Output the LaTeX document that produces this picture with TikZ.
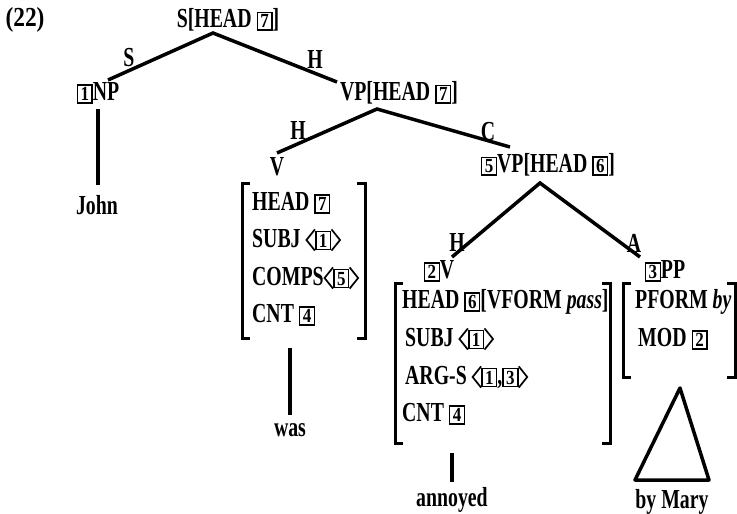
\documentclass[tikz,border=0pt]{standalone}
\usepackage{fontspec}
\setmainfont[FakeStretch=0.72]{Liberation Serif}
\newfontfamily\bxfont[FakeStretch=0.85]{Liberation Serif}
\newcommand\tf{\fontsize{27.5}{30}\selectfont\bfseries}
\newcommand\bx[1]{{\bxfont\bfseries\fontsize{20}{20}\selectfont\setlength\fboxsep{1.6pt}\setlength\fboxrule{1.4pt}\fbox{\kern0.8pt#1\kern0.8pt}}}
\newcommand\lan{\tikz[x=1pt,y=1pt,baseline=0pt]\draw[line width=1.7pt,line join=miter] (9,17.6) -- (0.5,7) -- (9,-3.6);\kern-0.6pt}
\newcommand\ran{\kern-0.6pt\tikz[x=1pt,y=1pt,baseline=0pt]\draw[line width=1.7pt,line join=miter] (0,17.6) -- (8.5,7) -- (0,-3.6);}
\tikzset{
  every node/.style={inner sep=0pt, font=\tf},
  edge/.style={line width=3.5pt},
  brk/.style={line width=3pt},
  row/.style={anchor=west},
}
\begin{document}
\begin{tikzpicture}[x=1pt,y=-1pt]
\useasboundingbox (0,0) rectangle (737,514);
% labels
\node[font=\tf\bxfont] (n22) at (25,20) {(22)};
\node (S) at (228,20) {S[HEAD \bx{7}]};
\node (NP) at (98,93) {\bx{1}NP};
\node (VP) at (399,93) {VP[HEAD \bx{7}]};
\node (V) at (277,167) {V};
\node (VP5) at (548,165) {\bx{5}VP[HEAD \bx{6}]};
\node (V2) at (439,271) {\bx{2}V};
\node (PP) at (665,271) {\bx{3}PP};
\node (john) at (97,205) {John};
\node (was) at (290,430) {was};
\node (annoyed) at (452,500) {annoyed};
\node (bymary) at (672,502) {by Mary};
% edge labels
\node (lS) at (129,58) {S};
\node (lH1) at (315,59) {H};
\node (lH2) at (298,130) {H};
\node (lC) at (488,132) {C};
\node (lH3) at (457,242) {H};
\node (lA) at (634,243) {A};
% vertices
\coordinate (sv) at (213,33);
\coordinate (npt) at (108,80);
\coordinate (vpt) at (337,82);
\coordinate (vpv) at (377,109);
\coordinate (vt) at (277,153);
\coordinate (vp5t) at (510,147);
\coordinate (vp5v) at (540,183);
\coordinate (v2t) at (452,257);
\coordinate (ppt) at (640,257);
\draw[edge] (npt) -- (sv) -- (vpt);
\draw[edge] (vt) -- (vpv) -- (vp5t);
\draw[edge] (v2t) -- (vp5v) -- (ppt);
% unary lines
\coordinate (j1) at (98,109); \coordinate (j2) at (98,185);
\draw[edge] (j1) -- (j2);
\coordinate (w1) at (290,348); \coordinate (w2) at (290,415);
\draw[edge] (w1) -- (w2);
\coordinate (a1) at (452,453); \coordinate (a2) at (452,482);
\draw[edge] (a1) -- (a2);
% triangle
\coordinate (t1) at (680,388); \coordinate (t2) at (635,480); \coordinate (t3) at (709,480);
\draw[edge, line join=round] (t1) -- (t2) -- (t3) -- cycle;
% V matrix
\draw[brk] (250,183) -- (242,183) -- (242,338) -- (250,338);
\draw[brk] (357,183) -- (365,183) -- (365,338) -- (357,338);
\node[row] (r1) at (252,203) {HEAD \bx{7}};
\node[row] (r2) at (252,240) {SUBJ \lan\bx{1}\ran};
\node[row] (r3) at (252,278) {COMPS\lan\bx{5}\ran};
\node[row] (r4) at (252,315) {CNT \bx{4}};
% V2 matrix
\draw[brk] (403,283) -- (395,283) -- (395,443) -- (403,443);
\draw[brk] (602,283) -- (610,283) -- (610,443) -- (602,443);
\node[row] (q1) at (402,302) {HEAD \bx{6}[VFORM \textit{pass}]};
\node[row] (q2) at (405,339) {SUBJ \lan\bx{1}\ran};
\node[row] (q3) at (405,377) {ARG-S \lan\bx{1},\bx{3}\ran};
\node[row] (q4) at (402,414) {CNT \bx{4}};
% PP matrix
\draw[brk] (631,283) -- (623,283) -- (623,377) -- (631,377);
\draw[brk] (727,283) -- (735,283) -- (735,377) -- (727,377);
\node[row] (p1) at (635,302) {PFORM \textit{by}};
\node[row] (p2) at (638,339) {MOD \bx{2}};
\end{tikzpicture}
\end{document}
